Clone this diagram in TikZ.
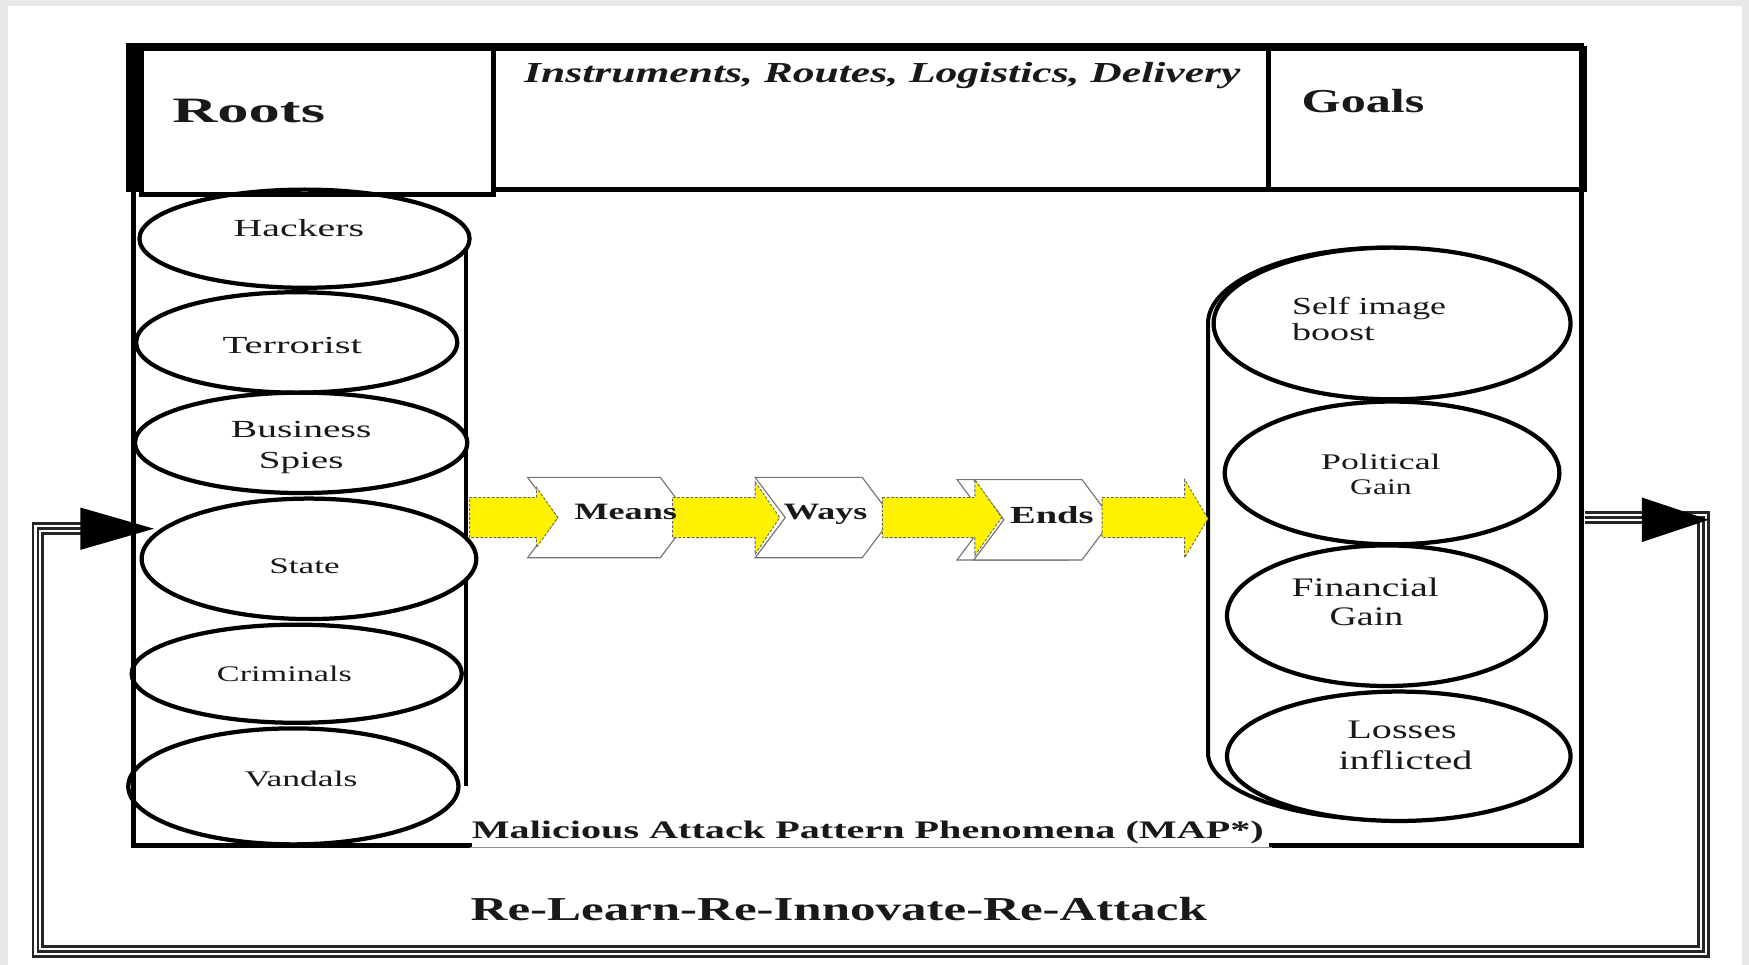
\documentclass[tikz,border=0pt]{standalone}
\usepackage{fontspec}
\setmainfont{Liberation Serif}
\usepackage{graphicx}
\usetikzlibrary{shapes.geometric}
% stretch a piece of text to a given width, keeping its height
\newcommand\fitw[2]{\resizebox{#1}{\height}{#2}}
\newcommand\fs[1]{\fontsize{#1}{#1}\selectfont}
\begin{document}
\begin{tikzpicture}[x=0.5pt,y=-0.5pt,line join=miter,
  hdrbox/.style={draw,line width=2.2pt,rectangle,inner sep=0pt,anchor=north west},
  frameline/.style={line width=2.2pt,line cap=rect},
  item/.style={draw,ellipse,line width=1.9pt,fill=white,inner sep=0pt},
  chev/.style={draw=black!55,line width=0.5pt,fill=white},
  yarrow/.style={fill=yellow,draw=black!60,line width=0.4pt,dash pattern=on 1.2pt off 0.8pt},
  triple/.style={line width=5.6pt,draw=black!85,
    postaction={draw=white,line width=3.2pt},
    postaction={draw=black!85,line width=1.2pt}},
  txt/.style={inner sep=0pt,anchor=base,text=black!90},
]
\useasboundingbox (0,0) rectangle (1568,865);
\fill[black!9] (0,0) rectangle (1568,865);
\fill[white] (7,5) rectangle (1562,865);

% ---- left cylinder (roots) ----
\draw[line width=2pt] (418,213) -- (418,705);
\node[item,minimum width=148pt,minimum height=44pt] (hackers)   at (273,214) {};
\node[item,minimum width=144pt,minimum height=45pt] (terrorist) at (266,307) {};
\node[item,minimum width=149pt,minimum height=45pt] (business)  at (270,397) {};
\node[item,minimum width=150pt,minimum height=54pt] (state)     at (277,501) {};
\node[item,minimum width=148pt,minimum height=44pt] (criminals) at (266,604) {};
\node[item,minimum width=148pt,minimum height=52pt] (vandals)   at (263,705) {};

% ---- right cylinder (goals) ----
\draw[line width=1.8pt] (1403,290) arc[start angle=360,end angle=180,x radius=160,y radius=68]
  -- (1083,675) arc[start angle=180,end angle=0,x radius=161,y radius=60];
\node[item,minimum width=160pt,minimum height=68pt] (selfimg)   at (1248,290) {};
\node[item,minimum width=150pt,minimum height=64pt] (political) at (1248,424) {};
\node[item,minimum width=143pt,minimum height=63pt] (financial) at (1243,552) {};
\node[item,minimum width=154pt,minimum height=58pt] (losses)    at (1254,678) {};

% ---- chevrons ----
\path[chev] (473,428) -- (592,428) -- (619,464) -- (592,500) -- (473,500) -- (500,464) -- cycle;
\path[chev] (677,428) -- (773,428) -- (800,464) -- (773,500) -- (677,500) -- (704,464) -- cycle;
\path[chev] (858,430) -- (958,430) -- (985,466) -- (958,502) -- (858,502) -- (885,466) -- cycle;
\path[chev] (873,430) -- (970,430) -- (997,466) -- (970,502) -- (873,502) -- (900,466) -- cycle;

% ---- yellow block arrows ----
\path[yarrow] (421,446) -- (481,446) -- (481,437) -- (500,464) -- (481,491) -- (481,482) -- (421,482) -- cycle;
\path[yarrow] (603,446) -- (677,446) -- (677,432) -- (699,464) -- (677,497) -- (677,482) -- (603,482) -- cycle;
\path[yarrow] (791,446) -- (874,446) -- (874,430) -- (898,464) -- (874,498) -- (874,482) -- (791,482) -- cycle;
\path[yarrow] (988,446) -- (1062,446) -- (1062,430) -- (1083,465) -- (1062,500) -- (1062,482) -- (988,482) -- cycle;

% ---- header row ----
\node[hdrbox,minimum width=157.5pt,minimum height=65.5pt] (rootsbox) at (125,41) {};
\node[hdrbox,minimum width=347.5pt,minimum height=63.5pt] (instrbox) at (440,41) {};
\node[hdrbox,minimum width=141.5pt,minimum height=63.5pt] (goalsbox) at (1135,41) {};
\fill (113,40) rectangle (128,172);

% ---- MAP frame ----
\draw[frameline] (115,41) -- (1418,41) -- (1418,758) -- (1140,758);
\draw[frameline] (421,758) -- (120,758) -- (120,172);
\draw[black!45,line width=0.6pt] (421,760) -- (1140,760);

% ---- feedback loop ----
\coordinate (fbOut) at (1421,464);
\coordinate (fbTR) at (1527,464);
\coordinate (fbBR) at (1527,853);
\coordinate (fbBL) at (34,853);
\coordinate (fbTL) at (34,474);
\coordinate (fbIn) at (100,474);
\draw[triple] (fbOut) -- (fbTR) -- (fbBR) -- (fbBL) -- (fbTL) -- (fbIn);
\fill (72,455) -- (138,474) -- (72,493) -- cycle;
\fill (1472,446) -- (1532,466) -- (1472,486) -- cycle;

% ---- texts ----
\node[txt] (roots) at (223,110) {\fs{16}\bfseries\fitw{68.5pt}{Roots}};
\node[txt] (instr) at (791,74) {\fs{13}\bfseries\itshape\fitw{321pt}{Instruments, Routes, Logistics, Delivery}};
\node[txt] (goals) at (1222,101) {\fs{15}\bfseries\fitw{55pt}{Goals}};

\node[txt] (thackers) at (268,212) {\fs{11}\fitw{58.5pt}{Hackers}};
\node[txt] (tterror) at (262,317) {\fs{11}\fitw{62.5pt}{Terrorist}};
\node[txt] (tbus1) at (270,392) {\fs{11}\fitw{63pt}{Business}};
\node[txt] (tbus2) at (270,420) {\fs{11}\fitw{38pt}{Spies}};
\node[txt] (tstate) at (273,514) {\fs{10}\fitw{31.5pt}{State}};
\node[txt] (tcrim) at (255,611) {\fs{10}\fitw{60.5pt}{Criminals}};
\node[txt] (tvand) at (270,705) {\fs{10}\fitw{50.5pt}{Vandals}};

\node[txt,anchor=base west] (tself1) at (1158,282) {\fs{11}\fitw{69pt}{Self image}};
\node[txt,anchor=base west] (tself2) at (1158,305) {\fs{11}\fitw{37pt}{boost}};
\node[txt] (tpol1) at (1238,421) {\fs{10}\fitw{53.5pt}{Political}};
\node[txt] (tpol2) at (1238,443) {\fs{10}\fitw{27.5pt}{Gain}};
\node[txt] (tfin1) at (1224,535) {\fs{12}\fitw{66pt}{Financial}};
\node[txt] (tfin2) at (1225,561) {\fs{12}\fitw{33pt}{Gain}};
\node[txt] (tlos1) at (1257,662) {\fs{12}\fitw{49pt}{Losses}};
\node[txt] (tlos2) at (1260,690) {\fs{12}\fitw{60pt}{inflicted}};

\node[txt] (tmeans) at (561,466) {\fs{10.5}\bfseries\fitw{46pt}{Means}};
\node[txt] (tways) at (740,466) {\fs{10.5}\bfseries\fitw{37.5pt}{Ways}};
\node[txt] (tends) at (943,469) {\fs{11}\bfseries\fitw{37.5pt}{Ends}};

\node[txt] (tmap) at (778,752) {\fs{11.3}\bfseries\fitw{355pt}{Malicious Attack Pattern Phenomena (MAP*)}};
\node[txt] (trelearn) at (752,825) {\fs{15}\bfseries\fitw{330pt}{Re-Learn-Re-Innovate-Re-Attack}};
\end{tikzpicture}
\end{document}
